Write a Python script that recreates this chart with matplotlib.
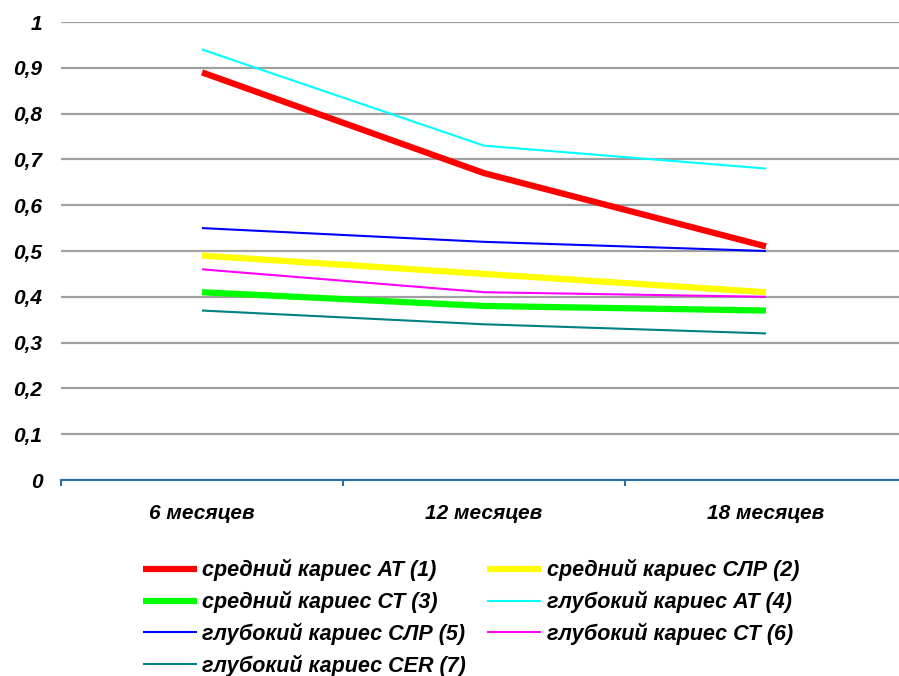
import matplotlib.pyplot as plt
from matplotlib.ticker import FuncFormatter, FixedLocator
import numpy as np

plt.rcParams['font.family'] = ['Liberation Sans', 'DejaVu Sans']

# periods of observation
months = ['6 месяцев', '12 месяцев', '18 месяцев']

# caries activity by group
sred_at = [0.89, 0.67, 0.51]
sred_slr = [0.49, 0.45, 0.41]
sred_st = [0.41, 0.38, 0.37]
glub_at = [0.94, 0.73, 0.68]
glub_slr = [0.55, 0.52, 0.50]
glub_st = [0.46, 0.41, 0.40]
glub_cer = [0.37, 0.34, 0.32]

labels = ['средний кариес АТ (1)', 'средний кариес СЛР (2)', 'средний кариес СТ (3)',
          'глубокий кариес АТ (4)', 'глубокий кариес СЛР (5)', 'глубокий кариес СТ (6)',
          'глубокий кариес CER (7)']
series = [sred_at, sred_slr, sred_st, glub_at, glub_slr, glub_st, glub_cer]
colors = ['#ff0000', '#ffff00', '#00ff00', '#00ffff', '#0000ff', '#ff00ff', '#008080']
widths = [4.5, 4.5, 4.5, 1.5, 1.5, 1.5, 1.5]

fig = plt.figure(figsize=(8.99, 6.76), dpi=100)
ax = fig.add_axes([61 / 899, 196 / 676, 846 / 899, 458 / 676])

x = np.arange(len(months))
lines = []
for vals, lab, c, w in zip(series, labels, colors, widths):
    ln, = ax.plot(x, vals, color=c, lw=w, label=lab, solid_capstyle='butt', zorder=3)
    lines.append(ln)

ax.set_xlim(-0.5, len(months) - 0.5)
ax.set_ylim(0, 1)

# boundary ticks between categories, labels centred on the categories
ax.xaxis.set_major_locator(FixedLocator(np.arange(len(months) + 1) - 0.5))
ax.xaxis.set_minor_locator(FixedLocator(x))
ax.set_xticklabels([], minor=False)
ax.set_xticklabels(months, minor=True)
ax.tick_params(axis='x', which='major', direction='out', length=4.5, width=1.5,
               color='#2a6fa5')
ax.tick_params(axis='x', which='minor', length=0, pad=17)

ax.set_yticks(np.arange(0, 1.01, 0.1))
ax.yaxis.set_major_formatter(FuncFormatter(lambda v, p: ('%g' % round(v, 1)).replace('.', ',')))
ax.tick_params(axis='y', length=0, pad=13.5)

for lbl in ax.get_xticklabels(minor=True) + ax.get_yticklabels():
    lbl.set_fontsize(15)
    lbl.set_fontweight('bold')
    lbl.set_fontstyle('italic')

ax.grid(axis='y', color='#a0a0a0', lw=1.6, zorder=1)
ax.set_axisbelow(True)
for s in ['top', 'right', 'left']:
    ax.spines[s].set_visible(False)
ax.spines['bottom'].set_color('#2a6fa5')
ax.spines['bottom'].set_linewidth(1.5)
ax.spines['bottom'].set_zorder(4)

# legend reads row by row: (1) (2) / (3) (4) / ...
order = [0, 2, 4, 6, 1, 3, 5]
fig.legend([lines[i] for i in order], [labels[i] for i in order],
           loc='upper left', bbox_to_anchor=(143 / 899, 1 - 559 / 676), ncol=2,
           frameon=False, borderpad=0, borderaxespad=0, handlelength=2.5,
           handletextpad=0.25, columnspacing=1.0, labelspacing=0.44,
           prop={'size': 15.5, 'weight': 'bold', 'style': 'italic'})

fig.savefig('out.png', dpi=100)
